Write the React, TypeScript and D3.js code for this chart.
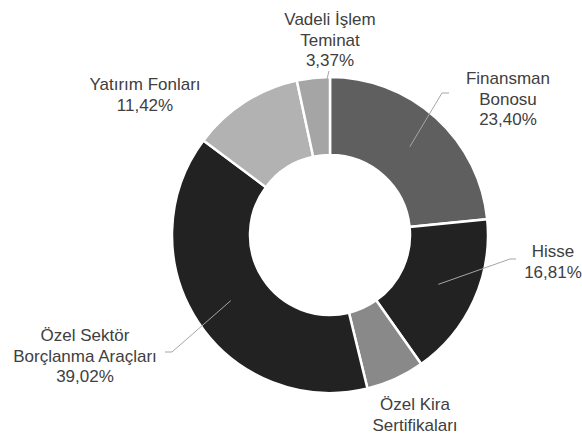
import React from "react";
import * as d3 from "d3";

const categories = [
  "Finansman Bonosu",
  "Hisse",
  "Özel Kira Sertifikaları",
  "Özel Sektör Borçlanma Araçları",
  "Yatırım Fonları",
  "Vadeli İşlem Teminat",
];
const values = [23.4, 16.81, 5.98, 39.02, 11.42, 3.37];
const colors = ["#5f5f5f", "#222222", "#898989", "#222222", "#b2b2b2", "#a5a5a5"];
const labelLines = [
  ["Finansman", "Bonosu", "23,40%"],
  ["Hisse", "16,81%"],
  ["Özel Kira", "Sertifikaları"],
  ["Özel Sektör", "Borçlanma Araçları", "39,02%"],
  ["Yatırım Fonları", "11,42%"],
  ["Vadeli İşlem", "Teminat", "3,37%"],
];
// label anchor (center x, first baseline y)
const labelPos = [
  { x: 508, y: 84 },
  { x: 553, y: 257 },
  { x: 415, y: 410 },
  { x: 85, y: 341 },
  { x: 145, y: 90 },
  { x: 330, y: 25 },
];
const leaders: ({ x: number; y: number; sx: number } | null)[] = [
  { x: 442, y: 93, sx: 449 },
  { x: 510, y: 259, sx: 516 },
  null,
  { x: 172, y: 352, sx: 165 },
  null,
  { x: 329, y: 71, sx: 329 },
];

const W = 582, H = 434;
const cx = 330, cy = 235, R = 158, r = 80;

export default function App() {
  const pie = d3.pie<number>().sort(null).value((d) => d);
  const arcs = pie(values);
  const arc = d3.arc<d3.PieArcDatum<number>>().innerRadius(r).outerRadius(R);
  const mid = d3.arc<d3.PieArcDatum<number>>().innerRadius((r + R) / 2 - 1).outerRadius((r + R) / 2 + 1);
  return (
    <svg width={W} height={H} style={{ position: "absolute", left: 0, top: 0, background: "#fff" }}
      fontFamily="'Liberation Sans', Arial, sans-serif">
      <g transform={`translate(${cx},${cy})`}>
        {arcs.map((a, i) => (
          <path key={i} d={arc(a) || ""} fill={colors[i]} stroke="#fff" strokeWidth={2.5} strokeLinejoin="miter" />
        ))}
      </g>
      {arcs.map((a, i) => {
        const L = leaders[i];
        if (!L) return null;
        const [mx, my] = mid.centroid(a);
        return (
          <polyline key={"l" + i}
            points={`${cx + mx},${cy + my} ${L.x},${L.y} ${L.sx},${L.y}`}
            fill="none" stroke="#a6a6a6" strokeWidth={1} />
        );
      })}
      {labelLines.map((lines, i) => (
        <text key={"t" + i} x={labelPos[i].x} y={labelPos[i].y} textAnchor="middle" fontSize={17} fill="#404040">
          {lines.map((s, j) => (
            <tspan key={j} x={labelPos[i].x} dy={j === 0 ? 0 : 20.5}>{s}</tspan>
          ))}
        </text>
      ))}
      <title>{categories.join(", ")}</title>
    </svg>
  );
}
